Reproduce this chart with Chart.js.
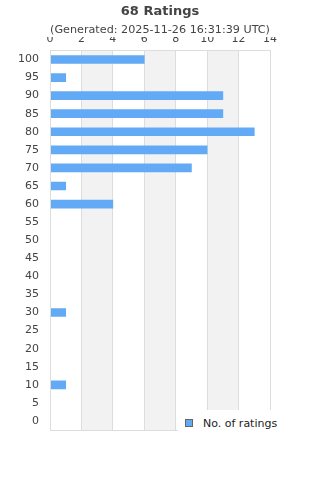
<!DOCTYPE html>
<html>
<head>
<meta charset="utf-8">
<script src="https://cdn.jsdelivr.net/npm/chart.js@4/dist/chart.umd.min.js"></script>
<style>
  html, body { margin: 0; padding: 0; background: #fff; }
  #wrap { position: relative; width: 320px; height: 480px; }
  #legend {
    position: absolute; left: 178px; top: 410px; width: 112px; height: 26px;
    background: #fff; font-family: 'DejaVu Sans', sans-serif; font-size: 11px; color: #222;
    display: flex; align-items: center;
  }
  #legend .sw { width: 6px; height: 6px; border: 1px solid #666; background: #62aaf5; margin-left: 7px; margin-right: 10px; }
</style>
</head>
<body>
<div id="wrap">
  <canvas id="c" width="320" height="480"></canvas>
  <div id="legend"><span class="sw"></span><span id="legendText"></span></div>
</div>
<script>
const titleText = '68 Ratings';
const subtitleText = '(Generated: 2025-11-26 16:31:39 UTC)';
const seriesName = 'No. of ratings';
const categories = ['100','95','90','85','80','75','70','65','60','55','50','45','40','35','30','25','20','15','10','5','0'];
const ratings = [6,1,11,11,13,10,9,1,4,0,0,0,0,0,1,0,0,0,1,0,0];
const xTickValues = [0,2,4,6,8,10,12,14];

document.getElementById('legendText').textContent = seriesName;

const bandsPlugin = {
  id: 'bands',
  beforeDraw(chart) {
    const {ctx, chartArea: a, scales: {x}} = chart;
    ctx.save();
    ctx.fillStyle = '#f2f2f2';
    for (let i = 1; i + 1 < xTickValues.length; i += 2) {
      const x0 = x.getPixelForValue(xTickValues[i]);
      const x1 = x.getPixelForValue(xTickValues[i + 1]);
      ctx.fillRect(x0, a.top, x1 - x0, a.bottom - a.top);
    }
    ctx.restore();
  },
  afterDraw(chart) {
    const {ctx, chartArea: a} = chart;
    ctx.save();
    ctx.strokeStyle = '#dddddd';
    ctx.lineWidth = 1;
    ctx.strokeRect(Math.round(a.left) + 0.5, Math.round(a.top) + 0.5, Math.round(a.right - a.left), Math.round(a.bottom - a.top));
    ctx.restore();
  }
};

Chart.defaults.font.family = "'DejaVu Sans', sans-serif";
Chart.defaults.color = '#444';

new Chart(document.getElementById('c'), {
  type: 'bar',
  data: {
    labels: categories,
    datasets: [{
      label: seriesName,
      data: ratings,
      backgroundColor: '#62aaf5',
      borderWidth: 0,
      barThickness: 8
    }]
  },
  options: {
    indexAxis: 'y',
    responsive: false,
    animation: false,
    devicePixelRatio: 1,
    layout: { padding: { left: 0, right: 0, top: 0, bottom: 50 } },
    plugins: {
      legend: { display: false },
      tooltip: { enabled: false },
      title: {
        display: true, text: titleText, color: '#444',
        font: { size: 13, weight: 'bold' },
        padding: { top: 4, bottom: 4 }
      },
      subtitle: {
        display: true, text: subtitleText, color: '#444',
        font: { size: 11.2 },
        padding: 0
      }
    },
    scales: {
      x: {
        position: 'top',
        min: 0, max: 14,
        afterBuildTicks(scale) { scale.ticks = xTickValues.map(v => ({value: v})); },
        ticks: { font: { size: 11 }, padding: 5, color: '#444' },
        grid: { color: '#dddddd', drawTicks: false },
        border: { color: '#dddddd' },
        afterFit(scale) { scale.height = 13.4; }
      },
      y: {
        ticks: { font: { size: 11 }, padding: 11, color: '#444' },
        grid: { display: false, drawTicks: false },
        border: { color: '#dddddd' },
        afterFit(scale) { scale.width = 50; }
      },
      yRight: {
        type: 'category',
        position: 'right',
        display: true,
        ticks: { display: false },
        grid: { display: false, drawTicks: false },
        border: { display: false },
        afterFit(scale) { scale.width = 50; }
      }
    }
  },
  plugins: [bandsPlugin]
});
</script>
</body>
</html>
